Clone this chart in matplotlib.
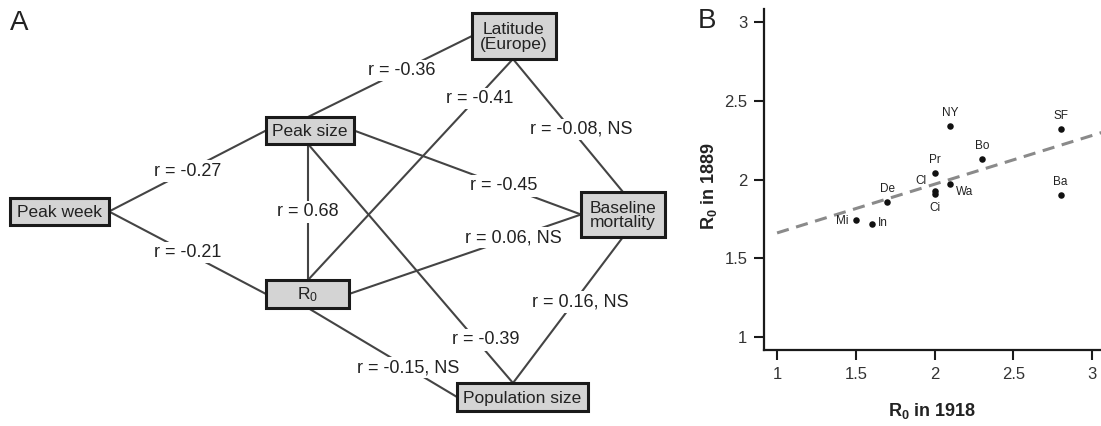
import matplotlib
matplotlib.use("Agg")
import matplotlib.pyplot as plt
from matplotlib.patches import Rectangle

plt.rcParams["font.family"] = ["Liberation Sans", "DejaVu Sans"]
plt.rcParams["mathtext.fontset"] = "custom"
plt.rcParams["mathtext.rm"] = "Liberation Sans"
plt.rcParams["mathtext.bf"] = "Liberation Sans:bold"
plt.rcParams["mathtext.default"] = "regular"

# --- panel A: correlation network ---
node_names = ["Peak week", "Peak size", "R$_0$", "Latitude\n(Europe)",
              "Baseline\nmortality", "Population size"]
edge_from = [0, 0, 1, 1, 2, 3, 1, 2, 1, 2, 4]
edge_to = [1, 2, 3, 2, 3, 4, 4, 4, 5, 5, 5]
edge_r = ["-0.27", "-0.21", "-0.36", "0.68", "-0.41", "-0.08, NS",
          "-0.45", "0.06, NS", "-0.39", "-0.15, NS", "0.16, NS"]

# --- panel B: R0 scatter ---
cities = ["NY", "SF", "Bo", "Pr", "Cl", "Ci", "Wa", "Ba", "De", "Mi", "In"]
r0_1918 = [2.10, 2.80, 2.30, 2.00, 2.00, 2.00, 2.10, 2.80, 1.70, 1.50, 1.60]
r0_1889 = [2.34, 2.32, 2.13, 2.04, 1.93, 1.91, 1.97, 1.90, 1.86, 1.74, 1.72]
fit_intercept = 1.35
fit_slope = 0.31

# layout (pixels): box x0, y0, x1, y1 and anchor x for top/bottom ports
boxes = [
    (10, 198, 109, 225),
    (266, 117, 354, 144),
    (266, 280, 349, 308),
    (472, 13, 556, 59),
    (581, 192, 665, 237),
    (457, 383, 588, 411),
]
port_x = [None, 308, 308, 513, None, 513]
# which side of each box the edge attaches to, and label position along edge
edge_ports = [("r", "l"), ("r", "l"), ("t", "l"), ("b", "t"), ("t", "b"),
              ("b", "t"), ("r", "l"), ("r", "l"), ("b", "t"), ("b", "l"), ("b", "t")]
label_t = [0.5, 0.5, 0.57, 0.5, 0.82, 0.53, 0.66, 0.71, 0.82, 0.67, 0.445]
label_dx = [0, 0, 0, 0, 4, 10, 0, 0, 10, 0, 6]

W, H = 1101, 426
fig = plt.figure(figsize=(W / 100, H / 100), dpi=100)
axA = fig.add_axes([0, 0, 1, 1])
axA.set_xlim(0, W)
axA.set_ylim(H, 0)
axA.axis("off")


def port(i, side):
    x0, y0, x1, y1 = boxes[i]
    cx = port_x[i] if port_x[i] is not None else (x0 + x1) / 2
    cy = (y0 + y1) / 2
    return {"l": (x0, cy), "r": (x1, cy), "t": (cx, y0), "b": (cx, y1)}[side]


line_col = "#444444"
txt_col = "#222222"
for k in range(len(edge_r)):
    p0 = port(edge_from[k], edge_ports[k][0])
    p1 = port(edge_to[k], edge_ports[k][1])
    axA.plot([p0[0], p1[0]], [p0[1], p1[1]], color=line_col, lw=1.5, zorder=1)
    t = label_t[k]
    lx = p0[0] + t * (p1[0] - p0[0]) + label_dx[k]
    ly = p0[1] + t * (p1[1] - p0[1])
    axA.text(lx, ly, "r = " + edge_r[k], ha="center", va="center",
             fontsize=13, color=txt_col, zorder=2,
             bbox=dict(facecolor="white", edgecolor="none", pad=1.5))

for i, name in enumerate(node_names):
    x0, y0, x1, y1 = boxes[i]
    axA.add_patch(Rectangle((x0, y0), x1 - x0, y1 - y0, facecolor="#d4d4d4",
                            edgecolor="#1a1a1a", lw=2.2, zorder=3))
    axA.text((x0 + x1) / 2, (y0 + y1) / 2 + 1, name, ha="center", va="center",
             fontsize=12.5, color=txt_col, zorder=4, linespacing=0.95)

fig.text(10 / W, 1 - 23 / H, "A", fontsize=20, color=txt_col, va="center")
fig.text(698 / W, 1 - 21 / H, "B", fontsize=20, color=txt_col, va="center")

# --- panel B axes ---
axB = fig.add_axes([764 / W, 1 - 350 / H, (W - 764) / W, (350 - 9) / H])
axB.set_xlim(0.917, 3.057)
axB.set_ylim(0.915, 3.085)
axB.scatter(r0_1918, r0_1889, s=22, color="#111111", zorder=3, linewidths=0)
xs = [1.0, 3.1]
axB.plot(xs, [fit_intercept + fit_slope * x for x in xs], ls=(0, (4, 2.5)),
         color="#8a8a8a", lw=2.2, zorder=2)

offsets = {"NY": (0, 13, "center"), "SF": (0, 13, "center"),
           "Bo": (0, 13, "center"), "Pr": (0, 13, "center"),
           "Cl": (-14, 9, "center"), "Ci": (0, -14, "center"),
           "Wa": (6, -8, "left"), "Ba": (0, 13, "center"),
           "De": (0, 13, "center"), "Mi": (-7, -1, "right"),
           "In": (6, 0, "left")}
for c, x, y in zip(cities, r0_1918, r0_1889):
    dx, dy, ha = offsets[c]
    axB.annotate(c, (x, y), xytext=(dx, dy), textcoords="offset pixels",
                 ha=ha, va="center", fontsize=8.5, color="#222222")

ticks = [1, 1.5, 2, 2.5, 3]
tick_labels = ["1", "1.5", "2", "2.5", "3"]
axB.set_xticks(ticks)
axB.set_xticklabels(tick_labels)
axB.set_yticks(ticks)
axB.set_yticklabels(tick_labels)
for s in ["top", "right"]:
    axB.spines[s].set_visible(False)
for s in ["left", "bottom"]:
    axB.spines[s].set_linewidth(1.6)
    axB.spines[s].set_color("#1a1a1a")
axB.tick_params(length=7, width=1.5, pad=5, labelsize=12, labelcolor="#333333",
                color="#1a1a1a")
axB.set_xlabel(r"$\mathbf{R_0}$ in 1918", fontsize=13, fontweight="bold",
               color="#222222", labelpad=14)
axB.set_ylabel(r"$\mathbf{R_0}$ in 1889", fontsize=13, fontweight="bold",
               color="#222222", labelpad=14)
axB.yaxis.set_label_coords(-0.135, 0.48)

fig.savefig("out.png", dpi=100)
